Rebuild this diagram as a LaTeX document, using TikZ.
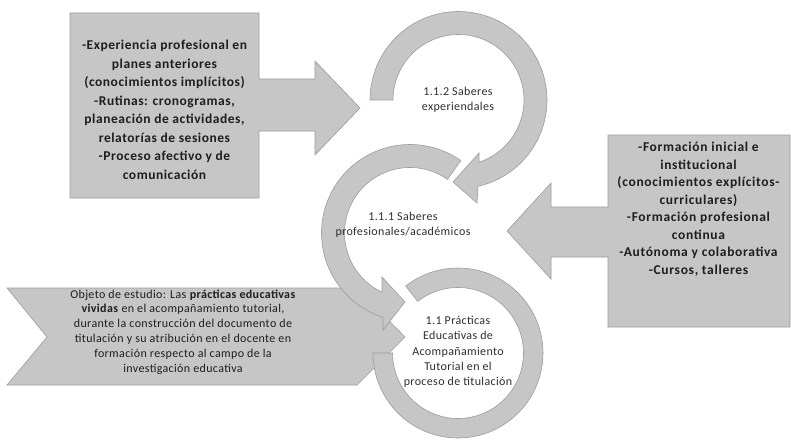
\documentclass[tikz,border=0pt]{standalone}
\usepackage{fontspec}
\setmainfont{Carlito}
\usetikzlibrary{calc}
\definecolor{shapefill}{HTML}{C6C6C6}
\definecolor{shapeline}{HTML}{9C9C9C}
\definecolor{boxtxt}{HTML}{1E1E1E}
\definecolor{ringtxt}{HTML}{2E2E2E}
\begin{document}
\begin{tikzpicture}[x=1pt,y=-1pt,
  shapestyle/.style={fill=shapefill,draw=shapeline,line width=0.6pt,line join=miter},
  boxtext/.style={align=center,text=boxtxt,inner sep=0pt,font=\fontsize{13.5}{18.5}\selectfont\bfseries\addfontfeature{LetterSpace=4}},
  rboxtext/.style={align=center,text=boxtxt,inner sep=0pt,font=\fontsize{13.5}{17.5}\selectfont\bfseries\addfontfeature{LetterSpace=5}},
  chevtext/.style={align=center,text=boxtxt,inner sep=0pt,font=\fontsize{12}{14.8}\selectfont\addfontfeature{LetterSpace=3}},
  ringtext/.style={align=center,text=ringtxt,inner sep=0pt,font=\fontsize{12}{15.2}\selectfont\addfontfeature{LetterSpace=3}}]
\useasboundingbox (0,0) rectangle (791,441);

% left callout
\draw[shapestyle] (70,13) -- (259,13) -- (259,79) -- (315,79) -- (315,61) -- (360,108)
  -- (315,155) -- (315,131) -- (259,131) -- (259,198) -- (70,198) -- cycle;
% right callout
\draw[shapestyle] (790,135) -- (790,327) -- (608,327) -- (608,257) -- (551,257) -- (551,279)
  -- (507,231) -- (551,183) -- (551,207) -- (608,207) -- (608,135) -- cycle;
% chevron
\draw[shapestyle] (7,288) -- (357,288) -- (405,337) -- (357,385) -- (7,385) -- (47,337) -- cycle;

% top ring (1.1.2)
\draw[shapestyle] plot[domain=180:437.3,samples=90] ({458.5+88.5*cos(\x)},{100+88.5*sin(\x)})
  -- (477,203) -- (453,182) -- (479,153)
  -- plot[domain=431.8:180,samples=90] ({458.5+65.5*cos(\x)},{100+65.5*sin(\x)}) -- cycle;
% bottom ring (1.1)
\draw[shapestyle] plot[domain=232:540,samples=90] ({458+85*cos(\x)},{353+85*sin(\x)})
  -- plot[domain=540:232,samples=90] ({458+65.5*cos(\x)},{353+65.5*sin(\x)}) -- cycle;
% middle ring (1.1.1)
\draw[shapestyle] plot[domain=305:107.8,samples=90] ({410+88.5*cos(\x)},{233+88.5*sin(\x)})
  -- (383,330) -- (405,302) -- (382,277)
  -- plot[domain=115.3:305,samples=90] ({410+65.5*cos(\x)},{233+65.5*sin(\x)}) -- cycle;

\node[boxtext] (lefttxt) at (164.5,110) {-Experiencia profesional en\\planes anteriores\\(conocimientos implícitos)\\-Rutinas: cronogramas,\\planeación de actividades,\\relatorías de sesiones\\-Proceso afectivo y de\\comunicación};
\node[rboxtext] (righttxt) at (698.5,209) {-Formación inicial e\\institucional\\(conocimientos explícitos-\\curriculares)\\-Formación profesional\\continua\\-Autónoma y colaborativa\\-Cursos, talleres};
\node[chevtext] (chevtxt) at (183,332) {Objeto de estudio: Las \textbf{prácticas educativas}\\\textbf{vividas} en el acompañamiento tutorial,\\durante la construcción del documento de\\titulación y su atribución en el docente en\\formación respecto al campo de la\\investigación educativa};
\node[ringtext] (t112) at (458,100) {1.1.2 Saberes\\experiendales};
\node[ringtext] (t111) at (403,225) {1.1.1 Saberes\\profesionales/académicos};
\node[ringtext] (t11) at (458,352) {1.1 Prácticas\\Educativas de\\Acompañamiento\\Tutorial en el\\proceso de titulación};
\end{tikzpicture}
\end{document}
